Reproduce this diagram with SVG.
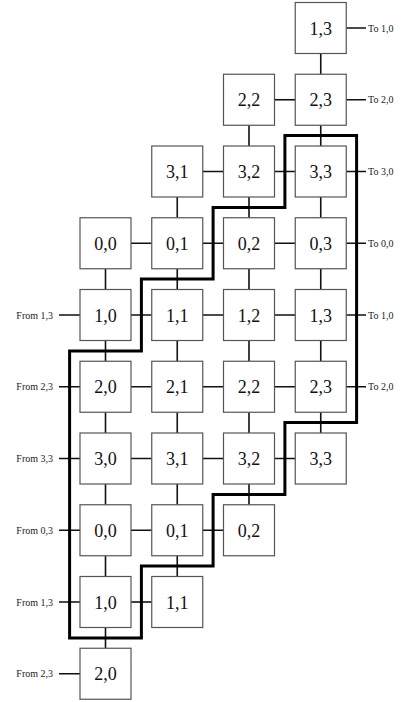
<svg xmlns="http://www.w3.org/2000/svg" width="401" height="702" viewBox="0 0 401 702">
<style>
.box{fill:#fff;stroke:#555;stroke-width:1.2}
.lbl{font-family:"Liberation Serif",serif;font-size:18px;text-anchor:middle;fill:#111}
.sm{font-family:"Liberation Serif",serif;font-size:10px;fill:#222}
.c{stroke:#111;stroke-width:1.6;fill:none}
.thick{stroke:#000;stroke-width:3;fill:none}
</style>
<rect width="401" height="702" fill="#fff"/>
<g id="connectors">
<!-- vertical col0 rows3-9 -->
<path class="c" d="M105.5,268.75V289.5M105.5,340.5V361.25M105.5,412.25V433M105.5,484V504.75M105.5,555.75V576.5M105.5,627.5V648.25"/>
<!-- col1 rows2-8 -->
<path class="c" d="M177.25,197V217.75M177.25,268.75V289.5M177.25,340.5V361.25M177.25,412.25V433M177.25,484V504.75M177.25,555.75V576.5"/>
<!-- col2 rows1-7 -->
<path class="c" d="M249,125.25V146M249,197V217.75M249,268.75V289.5M249,340.5V361.25M249,412.25V433M249,484V504.75"/>
<!-- col3 rows0-6 -->
<path class="c" d="M320.75,53.5V74.25M320.75,125.25V146M320.75,197V217.75M320.75,268.75V289.5M320.75,340.5V361.25M320.75,412.25V433"/>
<!-- horizontals -->
<path class="c" d="M274.5,99.75H295.25"/>
<path class="c" d="M202.75,171.5H223.5M274.5,171.5H295.25"/>
<path class="c" d="M131,243.25H151.75M202.75,243.25H223.5M274.5,243.25H295.25"/>
<path class="c" d="M131,315H151.75M202.75,315H223.5M274.5,315H295.25"/>
<path class="c" d="M131,386.75H151.75M202.75,386.75H223.5M274.5,386.75H295.25"/>
<path class="c" d="M131,458.5H151.75M202.75,458.5H223.5M274.5,458.5H295.25"/>
<path class="c" d="M131,530.25H151.75M202.75,530.25H223.5"/>
<path class="c" d="M131,602H151.75"/>
<!-- right stubs -->
<path class="c" d="M346.25,28H366M346.25,99.75H366M346.25,171.5H366M346.25,243.25H366M346.25,315H366M346.25,386.75H366"/>
<!-- left stubs -->
<path class="c" d="M59,315H80M59,386.75H80M59,458.5H80M59,530.25H80M59,602H80M59,673.75H80"/>
<path class="thick" d="M284.9,135.6H356.6V422.6H284.9V494.4H213.1V566.1H141.4V637.9H69.6V350.9H141.4V279.1H213.1V207.4H284.9Z"/>
</g>
<g id="labels">
<text class="sm" x="368" y="31.5">To 1,0</text>
<text class="sm" x="368" y="103.25">To 2,0</text>
<text class="sm" x="368" y="175">To 3,0</text>
<text class="sm" x="368" y="246.75">To 0,0</text>
<text class="sm" x="368" y="318.5">To 1,0</text>
<text class="sm" x="368" y="390.25">To 2,0</text>
<text class="sm" x="53" y="318.5" text-anchor="end">From 1,3</text>
<text class="sm" x="53" y="390.25" text-anchor="end">From 2,3</text>
<text class="sm" x="53" y="462" text-anchor="end">From 3,3</text>
<text class="sm" x="53" y="533.75" text-anchor="end">From 0,3</text>
<text class="sm" x="53" y="605.5" text-anchor="end">From 1,3</text>
<text class="sm" x="53" y="677.25" text-anchor="end">From 2,3</text>
</g>
<g id="n0-3"><rect class="box" x="295.25" y="2.5" width="51" height="51"/><text class="lbl" x="320.75" y="34.5">1,3</text></g>
<g id="n1-2"><rect class="box" x="223.5" y="74.25" width="51" height="51"/><text class="lbl" x="249" y="106.25">2,2</text></g>
<g id="n1-3"><rect class="box" x="295.25" y="74.25" width="51" height="51"/><text class="lbl" x="320.75" y="106.25">2,3</text></g>
<g id="n2-1"><rect class="box" x="151.75" y="146" width="51" height="51"/><text class="lbl" x="177.25" y="178">3,1</text></g>
<g id="n2-2"><rect class="box" x="223.5" y="146" width="51" height="51"/><text class="lbl" x="249" y="178">3,2</text></g>
<g id="n2-3"><rect class="box" x="295.25" y="146" width="51" height="51"/><text class="lbl" x="320.75" y="178">3,3</text></g>
<g id="n3-0"><rect class="box" x="80" y="217.75" width="51" height="51"/><text class="lbl" x="105.5" y="249.75">0,0</text></g>
<g id="n3-1"><rect class="box" x="151.75" y="217.75" width="51" height="51"/><text class="lbl" x="177.25" y="249.75">0,1</text></g>
<g id="n3-2"><rect class="box" x="223.5" y="217.75" width="51" height="51"/><text class="lbl" x="249" y="249.75">0,2</text></g>
<g id="n3-3"><rect class="box" x="295.25" y="217.75" width="51" height="51"/><text class="lbl" x="320.75" y="249.75">0,3</text></g>
<g id="n4-0"><rect class="box" x="80" y="289.5" width="51" height="51"/><text class="lbl" x="105.5" y="321.5">1,0</text></g>
<g id="n4-1"><rect class="box" x="151.75" y="289.5" width="51" height="51"/><text class="lbl" x="177.25" y="321.5">1,1</text></g>
<g id="n4-2"><rect class="box" x="223.5" y="289.5" width="51" height="51"/><text class="lbl" x="249" y="321.5">1,2</text></g>
<g id="n4-3"><rect class="box" x="295.25" y="289.5" width="51" height="51"/><text class="lbl" x="320.75" y="321.5">1,3</text></g>
<g id="n5-0"><rect class="box" x="80" y="361.25" width="51" height="51"/><text class="lbl" x="105.5" y="393.25">2,0</text></g>
<g id="n5-1"><rect class="box" x="151.75" y="361.25" width="51" height="51"/><text class="lbl" x="177.25" y="393.25">2,1</text></g>
<g id="n5-2"><rect class="box" x="223.5" y="361.25" width="51" height="51"/><text class="lbl" x="249" y="393.25">2,2</text></g>
<g id="n5-3"><rect class="box" x="295.25" y="361.25" width="51" height="51"/><text class="lbl" x="320.75" y="393.25">2,3</text></g>
<g id="n6-0"><rect class="box" x="80" y="433" width="51" height="51"/><text class="lbl" x="105.5" y="465">3,0</text></g>
<g id="n6-1"><rect class="box" x="151.75" y="433" width="51" height="51"/><text class="lbl" x="177.25" y="465">3,1</text></g>
<g id="n6-2"><rect class="box" x="223.5" y="433" width="51" height="51"/><text class="lbl" x="249" y="465">3,2</text></g>
<g id="n6-3"><rect class="box" x="295.25" y="433" width="51" height="51"/><text class="lbl" x="320.75" y="465">3,3</text></g>
<g id="n7-0"><rect class="box" x="80" y="504.75" width="51" height="51"/><text class="lbl" x="105.5" y="536.75">0,0</text></g>
<g id="n7-1"><rect class="box" x="151.75" y="504.75" width="51" height="51"/><text class="lbl" x="177.25" y="536.75">0,1</text></g>
<g id="n7-2"><rect class="box" x="223.5" y="504.75" width="51" height="51"/><text class="lbl" x="249" y="536.75">0,2</text></g>
<g id="n8-0"><rect class="box" x="80" y="576.5" width="51" height="51"/><text class="lbl" x="105.5" y="608.5">1,0</text></g>
<g id="n8-1"><rect class="box" x="151.75" y="576.5" width="51" height="51"/><text class="lbl" x="177.25" y="608.5">1,1</text></g>
<g id="n9-0"><rect class="box" x="80" y="648.25" width="51" height="51"/><text class="lbl" x="105.5" y="680.25">2,0</text></g>
</svg>
